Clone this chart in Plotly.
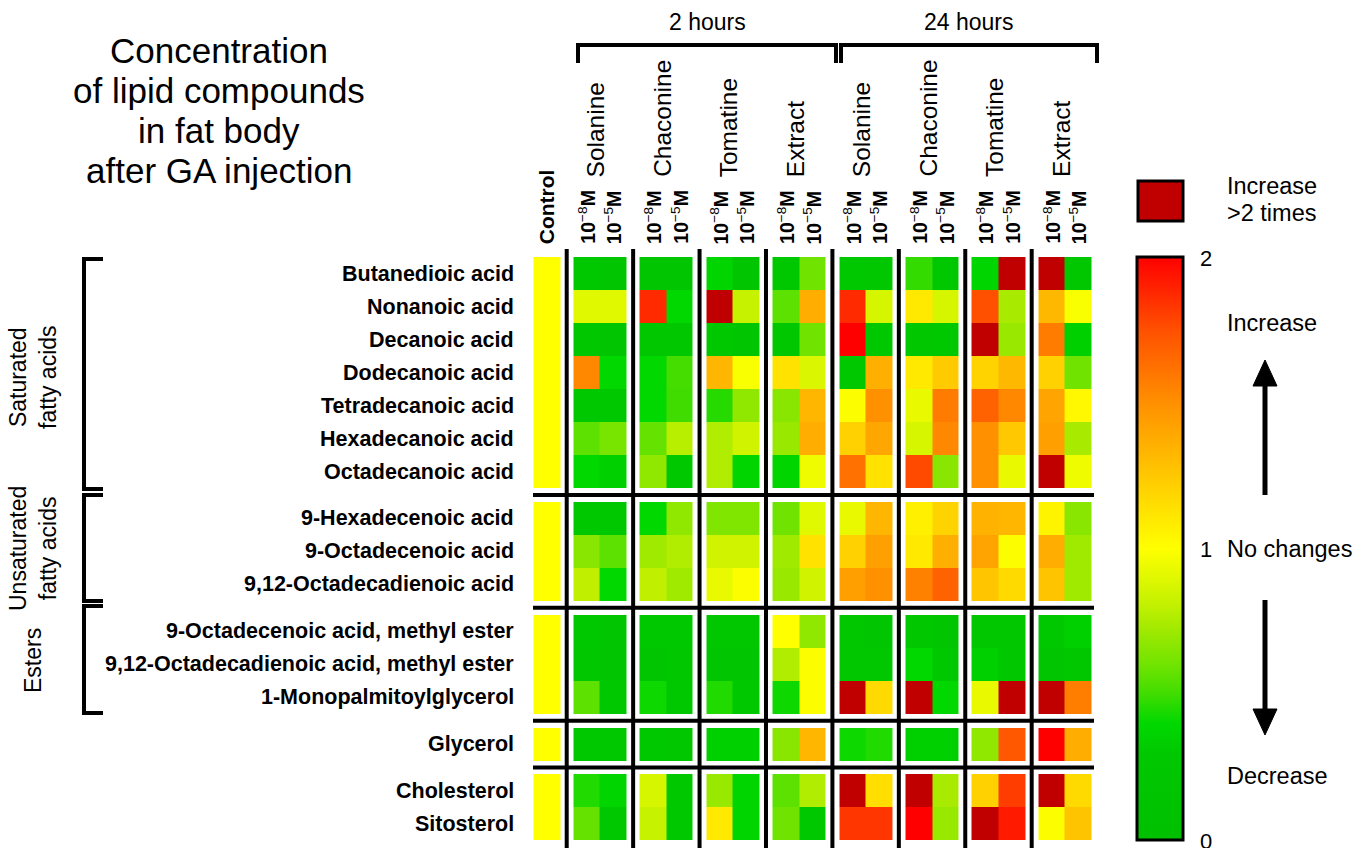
import plotly.graph_objects as go

W, H = 1366, 848
FONT = "Liberation Sans, Arial, sans-serif"

# ---------------- data ----------------
compounds = [
    "Butanedioic acid", "Nonanoic acid", "Decanoic acid", "Dodecanoic acid",
    "Tetradecanoic acid", "Hexadecanoic acid", "Octadecanoic acid",
    "9-Hexadecenoic acid", "9-Octadecenoic acid", "9,12-Octadecadienoic acid",
    "9-Octadecenoic acid, methyl ester", "9,12-Octadecadienoic acid, methyl ester",
    "1-Monopalmitoylglycerol",
    "Glycerol",
    "Cholesterol", "Sitosterol",
]
group_sizes = [7, 3, 3, 1, 2]
group_names = ["Saturated<br>fatty acids", "Unsaturated<br>fatty acids", "Esters"]
treatments = ["Solanine", "Chaconine", "Tomatine", "Extract"]
times = ["2 hours", "24 hours"]
conc_labels = ["<b>10</b><sup>−8</sup><b>M</b>", "<b>10</b><sup>−5</sup><b>M</b>"]
scale_ticks = [0, 1, 2]

# fold change vs control (values > 2 shown as "increase > 2 times")
control = [1.0] * 16
sol_2h_e8 = [0.30, 0.90, 0.25, 1.53, 0.30, 0.56, 0.40, 0.30, 0.66, 0.80, 0.30, 0.25, 0.56, 0.30, 0.45, 0.58]
sol_2h_e5 = [0.20, 0.90, 0.20, 0.40, 0.30, 0.62, 0.35, 0.30, 0.56, 0.40, 0.20, 0.20, 0.30, 0.30, 0.38, 0.30]
cha_2h_e8 = [0.20, 1.87, 0.25, 0.40, 0.40, 0.58, 0.68, 0.40, 0.72, 0.80, 0.30, 0.20, 0.42, 0.30, 0.87, 0.82]
cha_2h_e5 = [0.20, 0.40, 0.25, 0.51, 0.50, 0.78, 0.30, 0.68, 0.76, 0.72, 0.30, 0.25, 0.30, 0.25, 0.30, 0.30]
tom_2h_e8 = [0.38, 2.50, 0.30, 1.33, 0.46, 0.76, 0.76, 0.64, 0.85, 0.93, 0.25, 0.20, 0.45, 0.35, 0.70, 1.10]
tom_2h_e5 = [0.20, 0.82, 0.20, 0.98, 0.68, 0.85, 0.38, 0.64, 0.85, 0.99, 0.25, 0.20, 0.30, 0.35, 0.38, 0.38]
ext_2h_e8 = [0.30, 0.56, 0.25, 1.13, 0.66, 0.70, 0.38, 0.60, 0.72, 0.70, 1.00, 0.76, 0.42, 0.66, 0.56, 0.60]
ext_2h_e5 = [0.60, 1.37, 0.60, 0.88, 1.33, 1.37, 0.95, 0.90, 1.13, 0.85, 0.68, 0.99, 0.99, 1.33, 0.76, 0.30]
sol_24h_e8 = [0.30, 1.87, 2.00, 0.30, 0.99, 1.21, 1.62, 0.93, 1.21, 1.43, 0.25, 0.25, 2.50, 0.42, 2.50, 1.83]
sol_24h_e5 = [0.25, 0.87, 0.30, 1.36, 1.50, 1.40, 1.13, 1.33, 1.43, 1.50, 0.20, 0.25, 1.17, 0.45, 1.15, 1.83]
cha_24h_e8 = [0.48, 1.10, 0.25, 1.10, 0.93, 0.87, 1.77, 1.07, 1.10, 1.56, 0.25, 0.40, 2.50, 0.35, 2.50, 2.00]
cha_24h_e5 = [0.30, 0.87, 0.30, 1.24, 1.58, 1.53, 0.66, 1.20, 1.36, 1.68, 0.20, 0.30, 0.40, 0.35, 0.74, 0.70]
tom_24h_e8 = [0.38, 1.75, 2.50, 1.20, 1.68, 1.50, 1.50, 1.35, 1.41, 1.26, 0.25, 0.35, 0.93, 0.68, 1.21, 2.50]
tom_24h_e5 = [2.50, 0.74, 0.70, 1.32, 1.53, 1.25, 0.93, 1.33, 0.99, 1.17, 0.25, 0.25, 2.50, 1.72, 1.81, 1.92]
ext_24h_e8 = [2.50, 1.32, 1.58, 1.21, 1.41, 1.43, 2.50, 1.05, 1.37, 1.27, 0.30, 0.20, 2.50, 2.00, 2.50, 0.99]
ext_24h_e5 = [0.25, 0.98, 0.35, 0.60, 1.03, 0.74, 0.95, 0.66, 0.72, 0.72, 0.35, 0.25, 1.57, 1.37, 1.17, 1.27]

blocks = [
    [control],
    [sol_2h_e8, sol_2h_e5], [cha_2h_e8, cha_2h_e5], [tom_2h_e8, tom_2h_e5], [ext_2h_e8, ext_2h_e5],
    [sol_24h_e8, sol_24h_e5], [cha_24h_e8, cha_24h_e5], [tom_24h_e8, tom_24h_e5], [ext_24h_e8, ext_24h_e5],
]

# ---------------- colours ----------------
base_scale = [
    (0.0, "#00c000"), (0.15, "#00c800"), (0.2, "#00d800"), (0.25, "#40dc00"),
    (0.3, "#70e400"), (0.35, "#98e800"), (0.4, "#c0f000"), (0.45, "#e0f800"),
    (0.5, "#ffff00"), (0.625, "#ffc800"), (0.75, "#ff9000"), (0.875, "#ff5000"),
    (1.0, "#ff0000"),
]
ZMAX = 2.5
frac = 2.0 / ZMAX
heat_scale = [[s * frac, c] for s, c in base_scale] + [[frac + 0.0001, "#c00000"], [1.0, "#c00000"]]
cb_scale = [[s, c] for s, c in base_scale]

# ---------------- geometry ----------------
X0PX, UX = 533.5, 26.57   # x=0 pixel, px per cell
Y0PX, UY = 257.0, 33.0    # y=0 pixel, px per row
COLGAP, ROWGAP = 0.5, 0.42
CB_TOP, CB_BOT = 257.0, 840.0

x_edges = [0.0]
columns = []
block_spans = []
gap_x = []
for bi, block in enumerate(blocks):
    if bi > 0:
        columns.append(None)
        gap_x.append(x_edges[-1] + COLGAP / 2)
        x_edges.append(x_edges[-1] + COLGAP)
    start = x_edges[-1]
    for col in block:
        columns.append(col)
        x_edges.append(x_edges[-1] + 1)
    block_spans.append((start, x_edges[-1]))

y_edges = [0.0]
rows = []
row_centers = []
gap_y = []
ri = 0
for gi, n in enumerate(group_sizes):
    if gi > 0:
        rows.append(None)
        gap_y.append(y_edges[-1] + ROWGAP / 2)
        y_edges.append(y_edges[-1] + ROWGAP)
    for _ in range(n):
        rows.append(ri)
        row_centers.append(y_edges[-1] + 0.5)
        y_edges.append(y_edges[-1] + 1)
        ri += 1

z = []
for r in rows:
    line = []
    for c in columns:
        if r is None or c is None:
            line.append(None)
        else:
            line.append(c[r])
    z.append(line)

fig = go.Figure()
fig.add_trace(go.Heatmap(
    z=z, x=x_edges, y=y_edges, zmin=0, zmax=ZMAX, colorscale=heat_scale,
    showscale=False, hoverinfo="skip",
))
# colour-bar carrier (off-screen)
fig.add_trace(go.Heatmap(
    z=[[0, 2]], x=[-200, -199], y=[-200], zmin=0, zmax=2, colorscale=cb_scale,
    hoverinfo="skip", showscale=True,
    colorbar=dict(
        x=1137 / W, xanchor="left", xpad=0, y=1 - (CB_TOP + CB_BOT) / 2 / H, yanchor="middle", ypad=0,
        len=CB_BOT - CB_TOP, lenmode="pixels", thickness=46, thicknessmode="pixels",
        outlinewidth=3, outlinecolor="black",
        tickvals=scale_ticks, showticklabels=False, ticks="",
    ),
))

xr = [-X0PX / UX, (W - X0PX) / UX]
yr = [(H - Y0PX) / UY, -Y0PX / UY]
fig.update_xaxes(range=xr, visible=False, showgrid=False, zeroline=False, domain=[0, 1])
fig.update_yaxes(range=yr, visible=False, showgrid=False, zeroline=False, domain=[0, 1])


def dx(px):
    return (px - X0PX) / UX


def dy(py):
    return (py - Y0PX) / UY


def P(px):
    return px / W


def Q(py):
    return 1 - py / H


shapes = []
LW = 4
for gx in gap_x:
    shapes.append(dict(type="line", xref="x", yref="y", x0=gx, x1=gx, y0=dy(249), y1=dy(850),
                       line=dict(color="black", width=LW)))
for gy in gap_y:
    shapes.append(dict(type="line", xref="x", yref="y", x0=dx(533), x1=dx(1094), y0=gy, y1=gy,
                       line=dict(color="black", width=LW)))

# top brackets
for (xa, xb) in [(578, 836), (841, 1097)]:
    shapes.append(dict(type="path", xref="paper", yref="paper",
                       path=f"M {P(xa)},{Q(63)} L {P(xa)},{Q(45)} L {P(xb)},{Q(45)} L {P(xb)},{Q(63)}",
                       line=dict(color="black", width=LW)))
# left brackets
for (ya, yb) in [(259, 489), (495, 601), (606, 713)]:
    shapes.append(dict(type="path", xref="paper", yref="paper",
                       path=f"M {P(103)},{Q(ya)} L {P(84)},{Q(ya)} L {P(84)},{Q(yb)} L {P(103)},{Q(yb)}",
                       line=dict(color="black", width=LW)))
# ">2 times" legend box
shapes.append(dict(type="rect", xref="paper", yref="paper", x0=P(1138), x1=P(1183), y0=Q(181), y1=Q(221),
                   fillcolor="#c00000", line=dict(color="black", width=3)))
# dashes at 1 on the colour bar
for (xa, xb) in [(1138, 1146), (1175, 1183)]:
    shapes.append(dict(type="line", xref="paper", yref="paper", x0=P(xa), x1=P(xb), y0=Q(549), y1=Q(549),
                       line=dict(color="black", width=2)))
# arrows
AX = 1265
shapes.append(dict(type="line", xref="paper", yref="paper", x0=P(AX), x1=P(AX), y0=Q(495), y1=Q(384),
                   line=dict(color="black", width=5)))
shapes.append(dict(type="path", xref="paper", yref="paper",
                   path=f"M {P(AX)},{Q(360)} L {P(AX-12)},{Q(386)} L {P(AX+12)},{Q(386)} Z",
                   fillcolor="black", line=dict(color="black", width=1)))
shapes.append(dict(type="line", xref="paper", yref="paper", x0=P(AX), x1=P(AX), y0=Q(600), y1=Q(711),
                   line=dict(color="black", width=5)))
shapes.append(dict(type="path", xref="paper", yref="paper",
                   path=f"M {P(AX)},{Q(735)} L {P(AX-12)},{Q(709)} L {P(AX+12)},{Q(709)} Z",
                   fillcolor="black", line=dict(color="black", width=1)))

ann = []


def txt(text, x, y, size, xanchor="center", yanchor="middle", angle=0, xref="paper", yref="paper", bold=False):
    ann.append(dict(text=f"<b>{text}</b>" if bold else text, x=x, y=y, xref=xref, yref=yref,
                    xanchor=xanchor, yanchor=yanchor, textangle=angle, showarrow=False,
                    font=dict(family=FONT, size=size, color="black")))


# title
for i, line in enumerate(["Concentration", "of lipid compounds", "in fat body", "after GA injection"]):
    txt(line, P(219), Q(50 + 40 * i), 35)

# time labels
txt(times[0], P(707), Q(22), 23)
txt(times[1], P(969), Q(22), 23)

# treatment labels and concentration labels
for bi, (xa, xb) in enumerate(block_spans):
    if bi == 0:
        txt("Control", (xa + xb) / 2, Q(246), 21, yanchor="bottom", angle=-90, xref="x", bold=True)
        continue
    name = treatments[(bi - 1) % 4]
    txt(name, (xa + xb) / 2 - 0.15, Q(179), 24.5, yanchor="bottom", angle=-90, xref="x")
    for k in range(2):
        txt(conc_labels[k], xa + 0.5 + k, Q(246), 19.5, yanchor="bottom", angle=-90, xref="x")

# compound labels
for name, yc in zip(compounds, row_centers):
    txt(name, P(516), yc, 21.5, xanchor="right", yref="y", bold=True)

# group labels
for name, yc in zip(group_names, [377, 549, 661]):
    txt(name, P(33), Q(yc), 23, angle=-90)

# colour-scale tick labels
for t in scale_ticks:
    py = CB_BOT - (CB_BOT - CB_TOP) * t / 2
    txt(str(t), P(1206), Q(py + 1), 22)

# legend texts
txt("Increase", P(1225), Q(186), 23.5, xanchor="left")
txt(">2 times", P(1225), Q(213), 23.5, xanchor="left")
txt("Increase", P(1225), Q(323), 23.5, xanchor="left")
txt("No changes", P(1225), Q(549), 23.5, xanchor="left")
txt("Decrease", P(1225), Q(776), 23.5, xanchor="left")

fig.update_layout(
    width=W, height=H, margin=dict(l=0, r=0, t=0, b=0),
    paper_bgcolor="white", plot_bgcolor="white",
    shapes=shapes, annotations=ann, showlegend=False,
    font=dict(family=FONT),
)

fig.write_html(
    "out.html",
    config={"displayModeBar": False},
    post_script="document.body.style.margin='0';document.body.style.padding='0';"
                "document.body.style.overflow='hidden';",
)
